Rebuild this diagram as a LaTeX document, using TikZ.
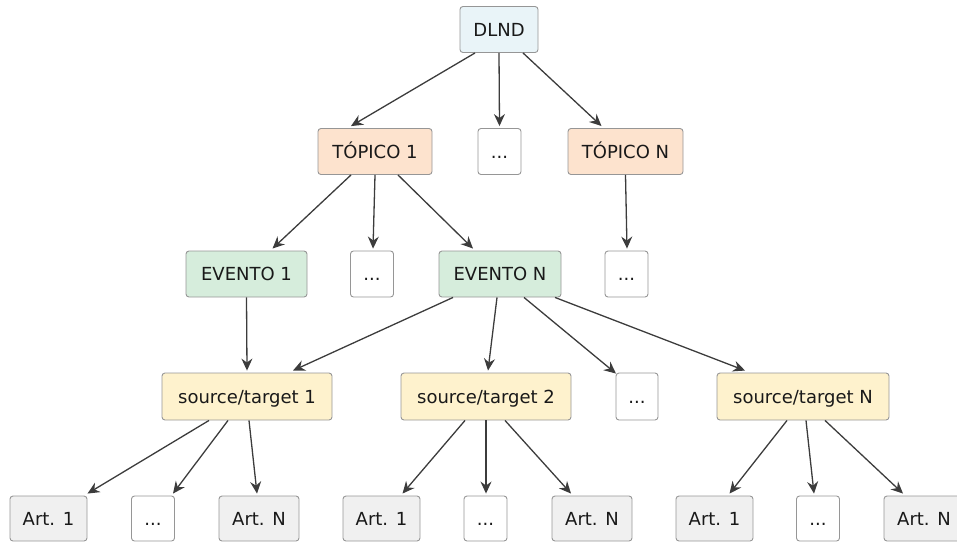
\documentclass[tikz,border=0pt]{standalone}
\usepackage{fontspec}
\setmainfont{DejaVu Sans}
\usetikzlibrary{arrows.meta}

\definecolor{rootfill}{RGB}{233,244,248}
\definecolor{topicfill}{RGB}{253,227,206}
\definecolor{eventfill}{RGB}{214,237,220}
\definecolor{pairfill}{RGB}{254,242,205}
\definecolor{artfill}{RGB}{240,240,240}
\definecolor{boxline}{RGB}{150,150,150}
\definecolor{edgeline}{RGB}{60,60,60}

\tikzset{
  box/.style={rectangle, rounded corners=3pt, draw=boxline, line width=0.9pt,
    inner sep=0pt, minimum height=46pt, align=center,
    text height=13pt, text depth=0pt,
    font=\fontsize{18}{20}\selectfont, text=black!90},
  rootbox/.style={box, fill=rootfill, minimum width=78pt},
  topicbox/.style={box, fill=topicfill, minimum width=114pt},
  eventbox/.style={box, fill=eventfill, minimum width=121pt},
  pairbox/.style={box, fill=pairfill, minimum width=170pt, minimum height=47pt},
  artbox/.style={box, fill=artfill, minimum width=77pt, minimum height=45pt},
  moreBox/.style={box, fill=white, minimum width=43pt},
  edge/.style={draw=edgeline, line width=1.3pt,
    -{Stealth[length=12pt, width=11pt, inset=4pt]}},
}

\begin{document}
\begin{tikzpicture}[x=1pt, y=-1pt]
\useasboundingbox (0,0) rectangle (957,542);
\clip (0,0) rectangle (957,542);

% root
\node[rootbox] (root) at (499,29.5) {DLND};

% topics
\node[topicbox] (t1) at (375,151.5) {TÓPICO 1};
\node[moreBox] (tm) at (499.5,151.5) {...};
\node[topicbox, minimum width=115pt] (tn) at (625.5,151.5) {TÓPICO N};

% events
\node[eventbox] (e1) at (246.5,274) {EVENTO 1};
\node[moreBox] (e1m) at (372,274) {...};
\node[eventbox, minimum width=122pt] (en) at (500,274) {EVENTO N};
\node[moreBox] (tnm) at (626.5,274) {...};

% source/target pairs
\node[pairbox] (p1) at (247,396.5) {source/target 1};
\node[pairbox] (p2) at (486,396.5) {source/target 2};
\node[moreBox, minimum width=42pt, minimum height=47pt] (pm) at (637,396.5) {...};
\node[pairbox, minimum width=172pt] (pn) at (803,396.5) {source/target N};

% articles
\node[artbox] (a11) at (48.5,518.5) {Art. 1};
\node[moreBox, minimum height=45pt] (a1m) at (153,518.5) {...};
\node[artbox, minimum width=80pt] (a1n) at (259,518.5) {Art. N};
\node[artbox] (a21) at (381.5,518.5) {Art. 1};
\node[moreBox, minimum height=45pt] (a2m) at (485.5,518.5) {...};
\node[artbox, minimum width=80pt] (a2n) at (592,518.5) {Art. N};
\node[artbox] (a31) at (714.5,518.5) {Art. 1};
\node[moreBox, minimum height=45pt] (a3m) at (818,518.5) {...};
\node[artbox, minimum width=80pt] (a3n) at (924,518.5) {Art. N};

% root -> topics
\draw[edge] ([xshift=-24pt]root.south) -- ([xshift=-24pt,yshift=2pt]t1.north);
\draw[edge] (root.south) -- ([yshift=2pt]tm.north);
\draw[edge] ([xshift=24pt]root.south) -- ([xshift=-24pt,yshift=2pt]tn.north);

% topics -> events
\draw[edge] ([xshift=-24pt]t1.south) -- ([xshift=26pt,yshift=2pt]e1.north);
\draw[edge] (t1.south) -- ([xshift=1pt,yshift=2pt]e1m.north);
\draw[edge] ([xshift=23pt]t1.south) -- ([xshift=-27pt,yshift=2pt]en.north);
\draw[edge] (tn.south) -- ([xshift=0.5pt,yshift=2pt]tnm.north);

% events -> pairs
\draw[edge] (e1.south) -- ([yshift=2pt]p1.north);
\draw[edge] ([xshift=-47pt]en.south) -- ([xshift=46pt,yshift=2pt]p1.north);
\draw[edge] ([xshift=-3pt]en.south) -- ([xshift=2pt,yshift=2pt]p2.north);
\draw[edge] ([xshift=24pt]en.south) -- ([xshift=-21pt,yshift=-1pt]pm.north);
\draw[edge] ([xshift=55pt]en.south) -- ([xshift=-58pt,yshift=2pt]pn.north);

% pairs -> articles
\draw[edge] ([xshift=-38pt]p1.south) -- ([xshift=39pt,yshift=2pt]a11.north);
\draw[edge] ([xshift=-19pt]p1.south) -- ([xshift=20pt,yshift=2pt]a1m.north);
\draw[edge] ([xshift=2pt]p1.south) -- ([xshift=-2pt,yshift=2pt]a1n.north);
\draw[edge] ([xshift=-21pt]p2.south) -- ([xshift=21pt,yshift=2pt]a21.north);
\draw[edge] (p2.south) -- ([xshift=0.5pt,yshift=2pt]a2m.north);
\draw[edge] ([xshift=19pt]p2.south) -- ([xshift=-21pt,yshift=2pt]a2n.north);
\draw[edge] ([xshift=-16pt]pn.south) -- ([xshift=15pt,yshift=2pt]a31.north);
\draw[edge] ([xshift=3pt]pn.south) -- ([xshift=-4pt,yshift=2pt]a3m.north);
\draw[edge] ([xshift=22pt]pn.south) -- ([xshift=-21pt,yshift=2pt]a3n.north);
\end{tikzpicture}
\end{document}
